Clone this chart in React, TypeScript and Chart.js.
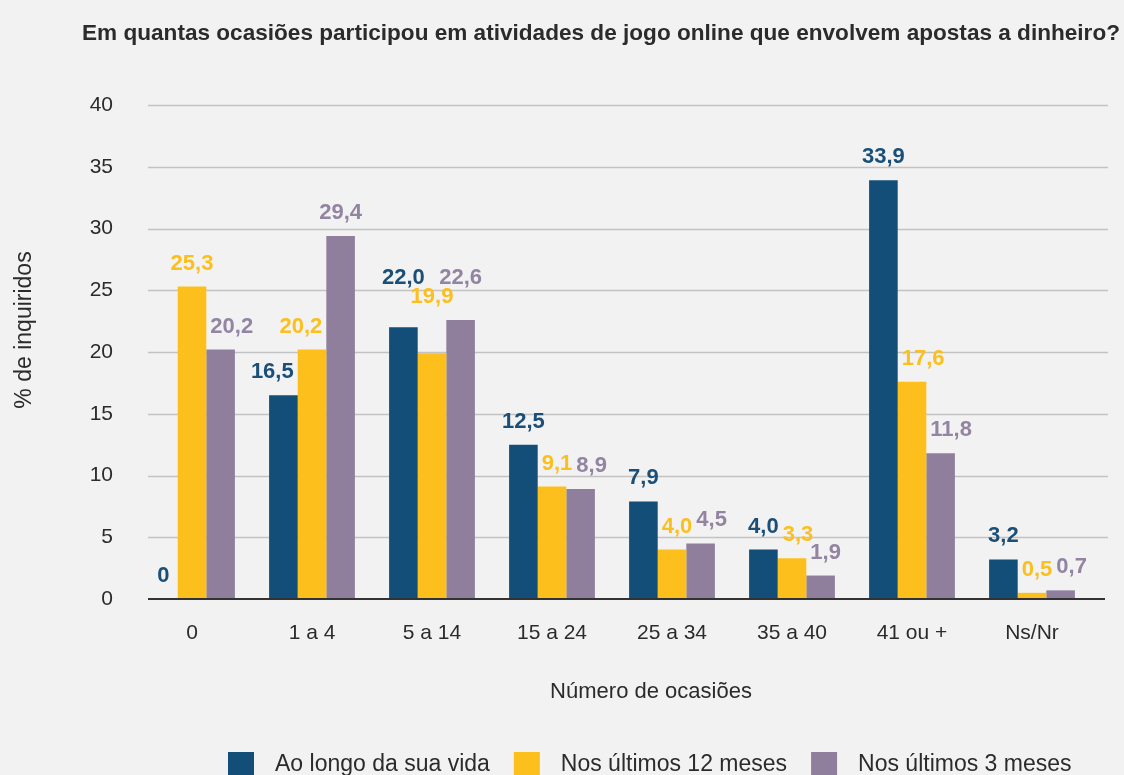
import React, { useEffect, useRef } from "react";
import { Chart, registerables } from "chart.js";

Chart.register(...registerables);

const TITLE = "Em quantas ocasiões participou em atividades de jogo online que envolvem apostas a dinheiro?";
const Y_TITLE = "% de inquiridos";
const X_TITLE = "Número de ocasiões";

const categories = ["0", "1 a 4", "5 a 14", "15 a 24", "25 a 34", "35 a 40", "41 ou +", "Ns/Nr"];
const seriesNames = ["Ao longo da sua vida", "Nos últimos 12 meses", "Nos últimos 3 meses"];
const lifetime = [0, 16.5, 22.0, 12.5, 7.9, 4.0, 33.9, 3.2];
const last12 = [25.3, 20.2, 19.9, 9.1, 4.0, 3.3, 17.6, 0.5];
const last3 = [20.2, 29.4, 22.6, 8.9, 4.5, 1.9, 11.8, 0.7];

const barColors = ["#134e78", "#fdbf1b", "#8f7f9d"];
const labelColors = ["#1b4f77", "#fbbf1e", "#9384a2"];

const FONT = "'Liberation Sans', Arial, sans-serif";
const TEXT = "#2b2b2b";

const fmt = (v: number) => (v === 0 ? "0" : v.toFixed(1).replace(".", ","));

type Lbl = { text: string; x: number; base: number; w: number; value: number; series: number; bar: any };

const GAP = 17;
const CAP = 16;

function layoutGroup(labels: Lbl[]) {
  // avoid taller neighbouring bars
  labels.forEach((l, i) => {
    const half = l.w / 2;
    const left = labels[i - 1];
    const right = labels[i + 1];
    let lo = 0;
    let ro = 0;
    if (left && left.bar.y < l.base + 3) {
      const edge = left.bar.x + left.bar.width / 2;
      lo = Math.max(0, edge - (l.x - half));
    }
    if (right && right.bar.y < l.base + 3) {
      const edge = right.bar.x - right.bar.width / 2;
      ro = Math.max(0, l.x + half - edge);
    }
    if (lo > 3 && ro > 3) {
      l.base = Math.min(left.bar.y, right.bar.y) - GAP;
    } else if (lo > 0 && lo >= ro) {
      l.x += lo + 4;
    } else if (ro > 0) {
      l.x -= ro + 4;
    }
  });
  // avoid label collisions
  const pairs = [
    [0, 1],
    [1, 2],
    [0, 2],
  ];
  pairs.forEach(([a, b]) => {
    const A = labels[a];
    const B = labels[b];
    if (!A || !B) return;
    const hov = Math.min(A.x + A.w / 2, B.x + B.w / 2) - Math.max(A.x - A.w / 2, B.x - B.w / 2);
    const vov = Math.min(A.base, B.base) - Math.max(A.base - CAP, B.base - CAP);
    if (hov <= 0 || vov <= 0) return;
    if (hov > 10) {
      if (A.value >= B.value) A.base = B.base - CAP - 3;
      else B.base = A.base - CAP - 3;
    } else {
      B.x += hov + 4;
    }
  });
}

const customPlugin = {
  id: "customDraw",
  beforeDraw(chart: any) {
    const { ctx, width, height } = chart;
    ctx.save();
    ctx.fillStyle = "#f2f2f2";
    ctx.fillRect(0, 0, width, height);
    ctx.restore();
  },
  beforeDatasetsDraw(chart: any) {
    const { ctx, chartArea, scales } = chart;
    const y = scales.y;
    ctx.save();
    ctx.strokeStyle = "#c3c3c3";
    ctx.lineWidth = 1.5;
    y.ticks.forEach((t: any) => {
      if (t.value === 0) return;
      const py = Math.round(y.getPixelForValue(t.value)) + 0.5;
      ctx.beginPath();
      ctx.moveTo(chartArea.left + 16, py);
      ctx.lineTo(chartArea.right + 16, py);
      ctx.stroke();
    });
    ctx.restore();
  },
  afterDatasetsDraw(chart: any) {
    const { ctx, chartArea, scales } = chart;
    const y0 = scales.y.getPixelForValue(0);
    ctx.save();
    ctx.strokeStyle = "#333333";
    ctx.lineWidth = 2;
    ctx.beginPath();
    ctx.moveTo(chartArea.left + 16, y0);
    ctx.lineTo(chartArea.right + 13, y0);
    ctx.stroke();

    ctx.font = `bold 22px ${FONT}`;
    ctx.textAlign = "center";
    ctx.textBaseline = "alphabetic";
    const n = chart.data.labels.length;
    for (let j = 0; j < n; j++) {
      const group: Lbl[] = chart.data.datasets.map((ds: any, i: number) => {
        const bar = chart.getDatasetMeta(i).data[j];
        const text = fmt(ds.data[j]);
        return {
          text,
          x: bar.x,
          base: bar.y - GAP,
          w: ctx.measureText(text).width,
          value: ds.data[j],
          series: i,
          bar,
        };
      });
      layoutGroup(group);
      group.forEach((l) => {
        ctx.fillStyle = labelColors[l.series];
        ctx.fillText(l.text, l.x, l.base);
      });
    }
    ctx.restore();
  },
  afterDraw(chart: any) {
    const { ctx } = chart;
    ctx.save();
    // Title
    ctx.fillStyle = TEXT;
    ctx.font = `bold 22px ${FONT}`;
    ctx.textAlign = "left";
    ctx.textBaseline = "alphabetic";
    const w = ctx.measureText(TITLE).width;
    const target = 1038;
    ctx.save();
    ctx.translate(82, 40);
    ctx.scale(target / w, 1);
    ctx.fillText(TITLE, 0, 0);
    ctx.restore();

    // Y title
    ctx.save();
    ctx.font = `23px ${FONT}`;
    ctx.fillStyle = TEXT;
    ctx.translate(25, 330);
    ctx.rotate(-Math.PI / 2);
    ctx.textAlign = "center";
    ctx.textBaseline = "middle";
    ctx.fillText(Y_TITLE, 0, 0);
    ctx.restore();

    // X title
    ctx.font = `22px ${FONT}`;
    ctx.fillStyle = TEXT;
    ctx.textAlign = "center";
    ctx.textBaseline = "middle";
    ctx.fillText(X_TITLE, 651, 692);

    // Legend
    ctx.font = `23px ${FONT}`;
    ctx.textAlign = "left";
    ctx.textBaseline = "alphabetic";
    let x = 228;
    seriesNames.forEach((name, i) => {
      ctx.fillStyle = barColors[i];
      ctx.fillRect(x, 752, 26, 30);
      x += 26 + 21;
      ctx.fillStyle = TEXT;
      ctx.fillText(name, x, 771);
      x += ctx.measureText(name).width + 24;
    });
    ctx.restore();
  },
};

export default function App() {
  const ref = useRef<HTMLCanvasElement | null>(null);
  useEffect(() => {
    if (!ref.current) return;
    const chart = new Chart(ref.current, {
      type: "bar",
      data: {
        labels: categories,
        datasets: [lifetime, last12, last3].map((d, i) => ({
          label: seriesNames[i],
          data: d,
          backgroundColor: barColors[i],
          borderWidth: 0,
          categoryPercentage: 0.715,
          barPercentage: 1,
        })),
      },
      options: {
        responsive: false,
        animation: false,
        layout: { padding: { top: 105, right: 32, left: 0, bottom: 0 } },
        plugins: {
          legend: { display: false },
          title: { display: false },
          tooltip: { enabled: false },
        },
        scales: {
          x: {
            grid: { display: false, drawTicks: false },
            border: { display: false },
            ticks: {
              color: TEXT,
              font: { family: FONT, size: 21 },
              padding: 22,
              maxRotation: 0,
              autoSkip: false,
            },
            afterFit: (s: any) => {
              s.height = 176;
            },
          },
          y: {
            min: 0,
            max: 40,
            grid: { display: false, drawTicks: false },
            border: { display: false },
            ticks: {
              stepSize: 5,
              color: TEXT,
              font: { family: FONT, size: 21 },
              padding: 19,
            },
            afterFit: (s: any) => {
              s.width = 132;
            },
          },
        },
      },
      plugins: [customPlugin],
    });
    return () => chart.destroy();
  }, []);
  return (
    <div style={{ position: "fixed", left: 0, top: 0, width: 1124, height: 775, background: "#f2f2f2" }}>
      <canvas ref={ref} width={1124} height={775} />
    </div>
  );
}
